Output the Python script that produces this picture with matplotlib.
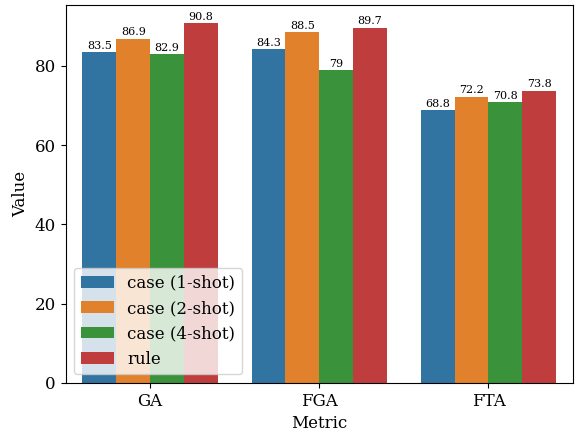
import numpy as np
import matplotlib
matplotlib.use('Agg')
import matplotlib.pyplot as plt
import pandas as pd
import seaborn as sns

plt.rcParams['font.family'] = 'DejaVu Serif'
plt.rcParams['font.size'] = 12

metrics = ['GA', 'FGA', 'FTA']
methods = ['case (1-shot)', 'case (2-shot)', 'case (4-shot)', 'rule']
case1 = [83.5, 84.3, 68.8]
case2 = [86.9, 88.5, 72.2]
case4 = [82.9, 79, 70.8]
rule = [90.8, 89.7, 73.8]

rows = []
for name, vals in zip(methods, [case1, case2, case4, rule]):
    for m, v in zip(metrics, vals):
        rows.append({'Metric': m, 'Method': name, 'Value': v})
df = pd.DataFrame(rows)

fig, ax = plt.subplots(figsize=(5.8, 4.34), dpi=100)
sns.barplot(data=df, x='Metric', y='Value', hue='Method', ax=ax)

for cont in ax.containers:
    ax.bar_label(cont, fontsize=8, padding=1)

ax.legend(loc='lower left')
fig.subplots_adjust(left=0.113, right=0.988, top=0.988, bottom=0.118)
plt.savefig('out.png', dpi=100)
